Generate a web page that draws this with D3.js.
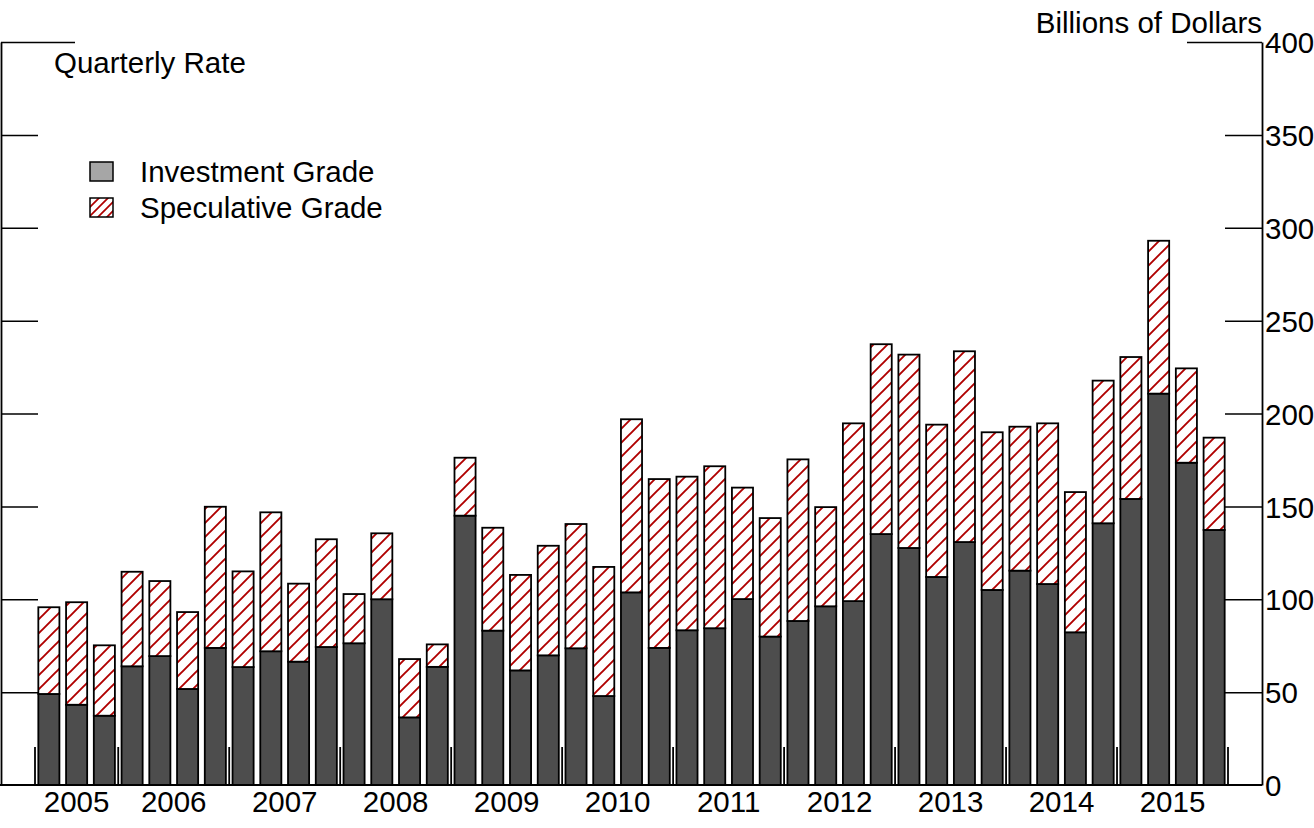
<!DOCTYPE html>
<html>
<head>
<meta charset="utf-8">
<script src="https://cdn.jsdelivr.net/npm/d3@7"></script>
<style>
  html, body { margin: 0; padding: 0; background: #fff; }
  svg { display: block; }
  text { font-family: "Liberation Sans", Arial, Helvetica, sans-serif; fill: #000; }
</style>
</head>
<body>
<svg id="chart" width="1314" height="828"></svg>
<script>
// ---- data ----
const years = ["2005","2006","2007","2008","2009","2010","2011","2012","2013","2014","2015"];
const quarters = [];
(function(){
  const qs = ["Q1","Q2","Q3","Q4"];
  years.forEach(y => qs.forEach(q => quarters.push(y + q)));
})();
const categories = quarters.slice(1, 44); // 2005Q2 .. 2015Q4
const investmentGrade = [49.0, 43.2, 37.3, 63.9, 69.4, 51.7, 73.8, 63.5, 72.0, 66.4, 74.3, 76.3, 100.0, 36.4, 63.6,
  145.0, 83.1, 61.7, 69.8, 73.6, 47.9, 103.7, 73.8, 83.3, 84.4, 100.1, 79.9, 88.3, 96.2, 99.0, 135.1, 127.6,
  112.0, 130.8, 105.0, 115.4, 108.2, 82.2, 140.9, 154.0, 210.7, 173.5, 137.3];
const speculativeGrade = [46.7, 55.2, 37.9, 50.9, 40.4, 41.4, 76.0, 51.5, 74.8, 42.0, 58.0, 26.5, 35.5, 31.4, 12.1,
  31.2, 55.4, 51.4, 59.0, 66.9, 69.5, 93.2, 90.9, 82.7, 87.2, 60.0, 63.8, 87.0, 53.4, 95.7, 102.2, 104.1,
  82.0, 102.7, 84.9, 77.5, 86.5, 75.5, 76.8, 76.4, 82.3, 50.8, 49.7];
const yTicks = [0, 50, 100, 150, 200, 250, 300, 350, 400];
const seriesNames = ["Investment Grade", "Speculative Grade"];

// ---- layout ----
const svg = d3.select("#chart");
const FS = 29.5;
const x0 = 35, x1 = 1228, yBottom = 785, yTop = 42;
const leftAxisX = 1, rightAxisX = 1262;

const x = d3.scaleBand().domain(categories).range([x0, x1]).paddingInner(0.24).paddingOuter(0.12);
const y = d3.scaleLinear().domain([0, 400]).range([yBottom, yTop]);
const step = x.step();

// hatch patterns
const defs = svg.append("defs");
const pat = defs.append("pattern").attr("id", "hatch").attr("patternUnits", "userSpaceOnUse")
  .attr("width", 14).attr("height", 14);
pat.append("rect").attr("width", 14).attr("height", 14).attr("fill", "#fff");
pat.append("path").attr("d", "M-2,2 L2,-2 M0,14 L14,0 M12,16 L16,12")
  .attr("stroke", "#b00000").attr("stroke-width", 1.9);
const pat2 = defs.append("pattern").attr("id", "hatchSmall").attr("patternUnits", "userSpaceOnUse")
  .attr("width", 9).attr("height", 9);
pat2.append("rect").attr("width", 9).attr("height", 9).attr("fill", "#fff");
pat2.append("path").attr("d", "M-2,2 L2,-2 M0,9 L9,0 M7,11 L11,7")
  .attr("stroke", "#b00000").attr("stroke-width", 1.7);

// bars
const data = categories.map((c, i) => ({ c, inv: investmentGrade[i], spec: speculativeGrade[i] }));
const g = svg.append("g");
g.selectAll("rect.inv").data(data).join("rect").attr("class", "inv")
  .attr("x", d => x(d.c)).attr("width", x.bandwidth())
  .attr("y", d => y(d.inv)).attr("height", d => y(0) - y(d.inv))
  .attr("fill", "#4d4d4d").attr("stroke", "#000").attr("stroke-width", 1.8);
g.selectAll("rect.spec").data(data).join("rect").attr("class", "spec")
  .attr("x", d => x(d.c)).attr("width", x.bandwidth())
  .attr("y", d => y(d.inv + d.spec)).attr("height", d => y(d.inv) - y(d.inv + d.spec))
  .attr("fill", "url(#hatch)").attr("stroke", "#000").attr("stroke-width", 1.8);

// year boundary ticks and labels
const yearBounds = [];
years.forEach(yr => {
  const qs = categories.filter(c => c.startsWith(yr));
  const start = x(qs[0]) - step * 0.12;
  const end = x(qs[qs.length - 1]) + x.bandwidth() + step * 0.12;
  yearBounds.push({ yr, start, end });
});
const bTicks = yearBounds.map(b => b.start).concat([yearBounds[yearBounds.length - 1].end]);
svg.append("g").selectAll("line").data(bTicks).join("line")
  .attr("x1", d => d).attr("x2", d => d)
  .attr("y1", yBottom - 38).attr("y2", yBottom)
  .attr("stroke", "#000").attr("stroke-width", 1.8);
svg.append("g").selectAll("text").data(yearBounds).join("text")
  .attr("x", d => (d.start + d.end) / 2).attr("y", 812)
  .attr("text-anchor", "middle").attr("font-size", FS).text(d => d.yr);

// bottom axis line
svg.append("line").attr("x1", 0).attr("x2", rightAxisX).attr("y1", yBottom).attr("y2", yBottom)
  .attr("stroke", "#000").attr("stroke-width", 1.8);

// left axis (ticks inward, no labels)
const leftAxis = d3.axisRight(y).tickValues(yTicks).tickSizeInner(37).tickSizeOuter(0).tickFormat("");
const la = svg.append("g").attr("transform", `translate(${leftAxisX},0)`).call(leftAxis);
la.select(".domain").attr("stroke-width", 1.8);
la.selectAll(".tick line").attr("stroke-width", 1.5).attr("x2", d => d === 400 ? 74 : 37);
la.selectAll(".tick").filter(d => d === 0).remove();

// right axis
const rightAxis = d3.axisRight(y).tickValues(yTicks).tickSizeInner(-37).tickSizeOuter(0).tickPadding(3);
const ra = svg.append("g").attr("transform", `translate(${rightAxisX},0)`).call(rightAxis);
ra.select(".domain").attr("stroke-width", 1.8);
ra.selectAll(".tick line").attr("stroke-width", 1.5).attr("x2", d => d === 400 ? -75 : -37);
ra.selectAll(".tick").filter(d => d === 0).select("line").remove();
ra.selectAll(".tick text").attr("font-size", FS).attr("font-family", "Liberation Sans, Arial, sans-serif")
  .attr("fill", "#000").attr("dy", "0.36em");

// titles
svg.append("text").attr("x", 54).attr("y", 73).attr("font-size", FS).text("Quarterly Rate");
svg.append("text").attr("x", 1262).attr("y", 33).attr("text-anchor", "end").attr("font-size", FS).text("Billions of Dollars");

// legend
const legend = svg.append("g");
const legItems = [
  { name: seriesNames[0], fill: "#a6a6a6", y: 162 },
  { name: seriesNames[1], fill: "url(#hatchSmall)", y: 198 }
];
legItems.forEach(it => {
  legend.append("rect").attr("x", 90).attr("y", it.y).attr("width", 23).attr("height", 19)
    .attr("fill", it.fill).attr("stroke", "#000").attr("stroke-width", 1.5);
  legend.append("text").attr("x", 140).attr("y", it.y + 20).attr("font-size", FS).text(it.name);
});
</script>
</body>
</html>
